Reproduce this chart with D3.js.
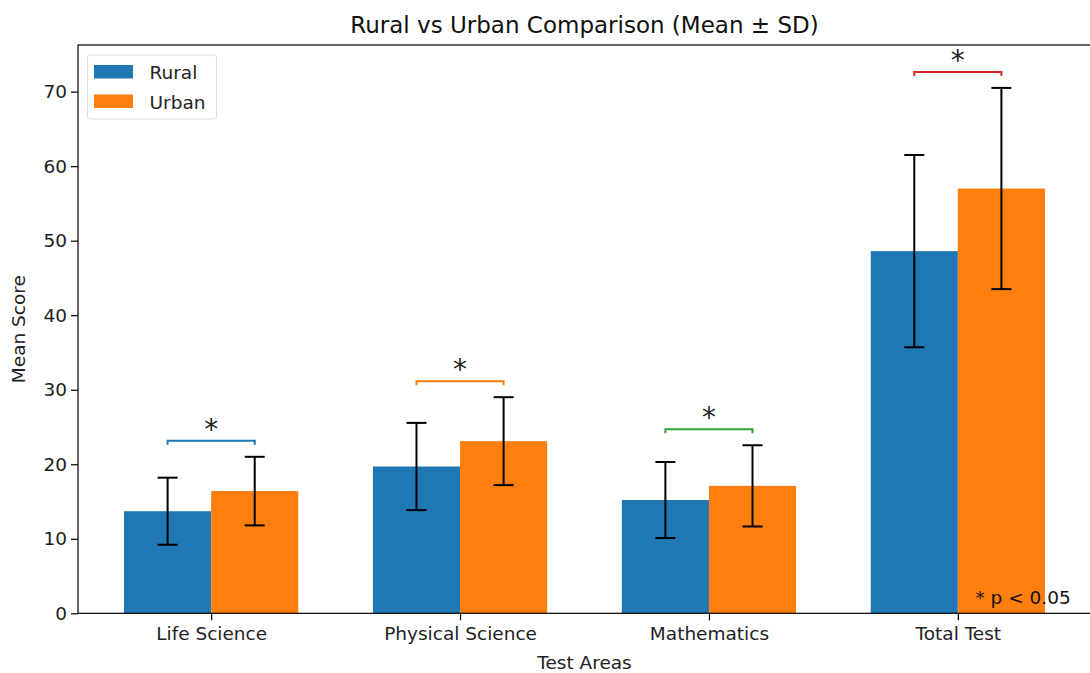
<!DOCTYPE html>
<html>
<head>
<meta charset="utf-8">
<script src="https://cdn.jsdelivr.net/npm/d3@7"></script>
<style>
  html, body { margin: 0; padding: 0; background: #fff; }
  svg { display: block; font-family: "DejaVu Sans", sans-serif; }
</style>
</head>
<body>
<svg id="chart" width="1090" height="673"></svg>
<script>
// Test areas and group statistics (mean ± SD)
const categories = ["Life Science", "Physical Science", "Mathematics", "Total Test"];
const ruralMean = [13.7, 19.7, 15.2, 48.6];
const ruralSD   = [4.5, 5.85, 5.1, 12.9];
const urbanMean = [16.4, 23.1, 17.1, 57.0];
const urbanSD   = [4.6, 5.9, 5.45, 13.5];
const significant = [true, true, true, true];
const bracketColors = ["#1f77b4", "#ff7f0e", "#2ca02c", "#d62728"];
const yTicks = [0, 10, 20, 30, 40, 50, 60, 70];

const seriesColors = { Rural: "#1f77b4", Urban: "#ff7f0e" };
const barWidth = 0.35;
const fs = 18.5;       // base font size
const textColor = "#222";

const svg = d3.select("#chart");
const plot = { left: 78, right: 1091, top: 45, bottom: 613.3 };

const x = d3.scaleLinear().domain([-0.535, 3.535]).range([plot.left, plot.right]);
const y = d3.scaleLinear().domain([0, 76.26]).range([plot.bottom, plot.top]);

// Bars
const bars = [];
categories.forEach((c, i) => {
  bars.push({ i, group: "Rural", mean: ruralMean[i], sd: ruralSD[i], off: -barWidth / 2 });
  bars.push({ i, group: "Urban", mean: urbanMean[i], sd: urbanSD[i], off: barWidth / 2 });
});

svg.append("g").selectAll("rect").data(bars).join("rect")
  .attr("x", d => x(d.i + d.off - barWidth / 2))
  .attr("width", d => x(barWidth) - x(0))
  .attr("y", d => y(d.mean))
  .attr("height", d => y(0) - y(d.mean))
  .attr("fill", d => seriesColors[d.group]);

// Error bars
const eb = svg.append("g").attr("stroke", "#000").attr("stroke-width", 2).attr("fill", "none");
bars.forEach(d => {
  const cx = x(d.i + d.off);
  eb.append("line").attr("x1", cx).attr("x2", cx).attr("y1", y(d.mean - d.sd)).attr("y2", y(d.mean + d.sd));
  [d.mean - d.sd, d.mean + d.sd].forEach(v => {
    eb.append("line").attr("x1", cx - 10).attr("x2", cx + 10).attr("y1", y(v)).attr("y2", y(v));
  });
});

// Significance brackets
categories.forEach((c, i) => {
  if (!significant[i]) return;
  const top = Math.max(ruralMean[i] + ruralSD[i], urbanMean[i] + urbanSD[i]) + 2.15;
  const x1 = x(i - barWidth / 2), x2 = x(i + barWidth / 2);
  const yy = y(top);
  svg.append("path")
    .attr("d", `M${x1},${yy + 4}V${yy}H${x2}V${yy + 4}`)
    .attr("fill", "none").attr("stroke", bracketColors[i]).attr("stroke-width", 2);
  svg.append("text")
    .attr("x", x(i)).attr("y", yy - 2)
    .attr("text-anchor", "middle")
    .attr("font-size", 28).attr("fill", textColor)
    .text("*");
});

// Axes
const yAxis = d3.axisLeft(y).tickValues(yTicks).tickSize(7).tickPadding(4);
const gy = svg.append("g").attr("transform", `translate(${plot.left},0)`).call(yAxis);
const xAxis = d3.axisBottom(x).tickValues(d3.range(categories.length))
  .tickFormat(i => categories[i]).tickSize(7).tickPadding(7);
const gx = svg.append("g").attr("transform", `translate(0,${plot.bottom})`).call(xAxis);
[gx, gy].forEach(g => {
  g.select(".domain").remove();
  g.selectAll("line").attr("stroke", "#000").attr("stroke-width", 1.2);
  g.selectAll("text").attr("font-size", fs).attr("fill", textColor).attr("font-family", "DejaVu Sans, sans-serif");
});

// Frame (spines)
svg.append("rect")
  .attr("x", plot.left).attr("y", plot.top)
  .attr("width", plot.right - plot.left).attr("height", plot.bottom - plot.top)
  .attr("fill", "none").attr("stroke", "#000").attr("stroke-width", 1.2);

// Title and axis labels
svg.append("text").attr("x", (plot.left + plot.right) / 2).attr("y", 33.3)
  .attr("text-anchor", "middle").attr("font-size", 23).attr("fill", "#111")
  .text("Rural vs Urban Comparison (Mean ± SD)");
svg.append("text").attr("x", (plot.left + plot.right) / 2).attr("y", 669)
  .attr("text-anchor", "middle").attr("font-size", fs).attr("fill", textColor)
  .text("Test Areas");
svg.append("text").attr("transform", `translate(25,${(plot.top + plot.bottom) / 2}) rotate(-90)`)
  .attr("text-anchor", "middle").attr("font-size", fs).attr("fill", textColor)
  .text("Mean Score");

// Footnote
svg.append("text").attr("x", plot.left + 0.98 * (plot.right - plot.left)).attr("y", 604)
  .attr("text-anchor", "end").attr("font-size", fs).attr("fill", "#111")
  .text("* p < 0.05");

// Legend
const lg = svg.append("g").attr("transform", "translate(87.5,55)");
lg.append("rect").attr("width", 129).attr("height", 64).attr("rx", 3)
  .attr("fill", "#fff").attr("fill-opacity", 0.8).attr("stroke", "#ddd");
["Rural", "Urban"].forEach((k, j) => {
  lg.append("rect").attr("x", 6.5).attr("y", 10 + j * 29.5).attr("width", 39).attr("height", 13.5)
    .attr("fill", seriesColors[k]);
  lg.append("text").attr("x", 62).attr("y", 24 + j * 29.5).attr("font-size", fs).attr("fill", textColor).text(k);
});
</script>
</body>
</html>
